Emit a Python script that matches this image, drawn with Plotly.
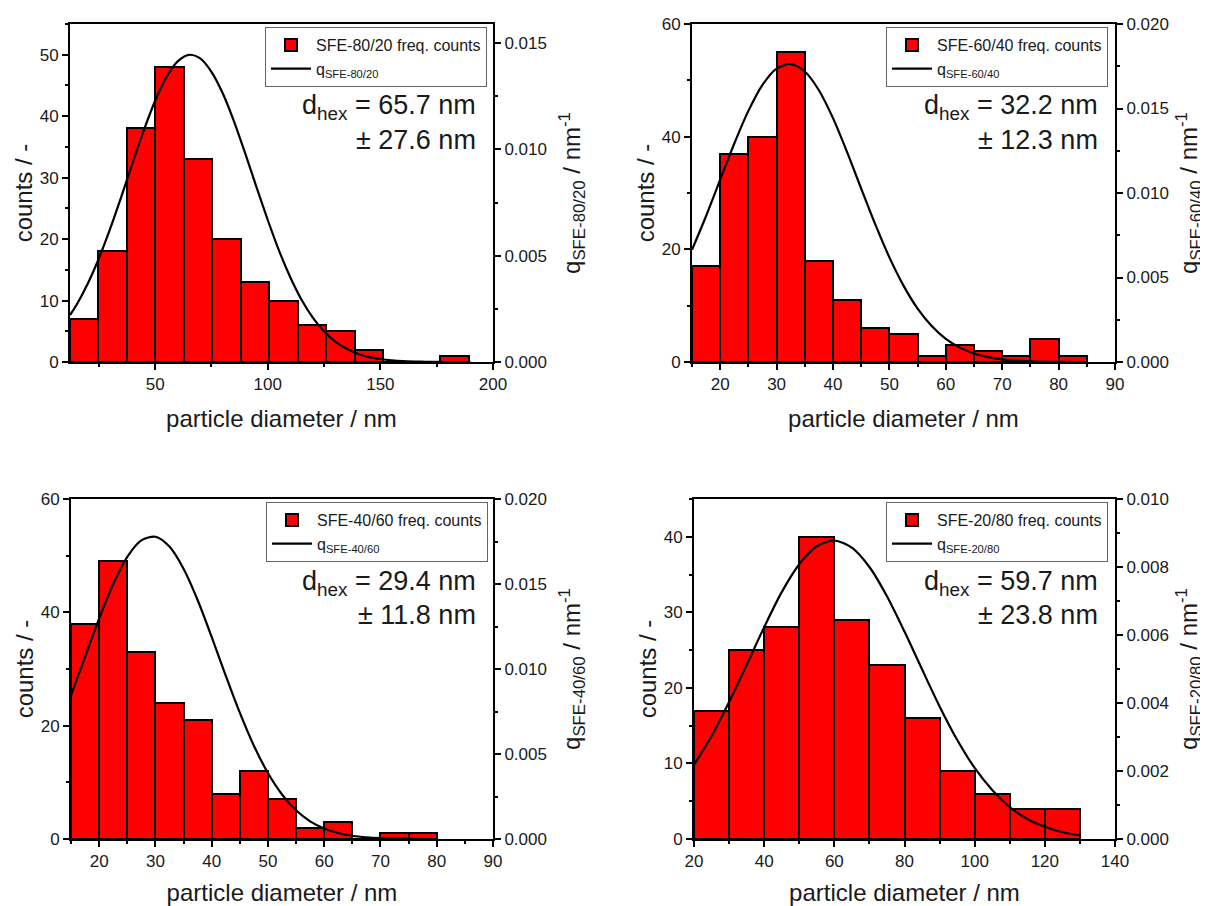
import plotly.graph_objects as go

# ---------------- data ----------------
samples = ["SFE-80/20", "SFE-60/40", "SFE-40/60", "SFE-20/80"]

edges_8020 = [12.2, 24.85, 37.5, 50.15, 62.8, 75.45, 88.1, 100.75, 113.4, 126.05,
              138.7, 151.35, 164.0, 176.65, 189.3]
counts_8020 = [7, 18, 38, 48, 33, 20, 13, 10, 6, 5, 2, 0, 0, 1]

edges_6040 = [15, 20, 25, 30, 35, 40, 45, 50, 55, 60, 65, 70, 75, 80, 85]
counts_6040 = [17, 37, 40, 55, 18, 11, 6, 5, 1, 3, 2, 1, 4, 1]

edges_4060 = [15, 20, 25, 30, 35, 40, 45, 50, 55, 60, 65, 70, 75, 80]
counts_4060 = [38, 49, 33, 24, 21, 8, 12, 7, 2, 3, 0, 1, 1]

edges_2080 = [20, 30, 40, 50, 60, 70, 80, 90, 100, 110, 120, 130]
counts_2080 = [17, 25, 28, 40, 29, 23, 16, 9, 6, 4, 4]

curve_x_8020 = [12.2, 15, 20, 25, 30, 35, 40, 45, 50, 55, 60, 65, 70, 75, 80, 85, 90, 95,
                100, 105, 110, 115, 120, 125, 130, 135, 140, 145, 150, 155, 160, 165,
                170, 180, 190]
curve_q_8020 = [0.00221, 0.00267, 0.00367, 0.00487, 0.00626, 0.00778, 0.00937, 0.01091,
                0.01229, 0.01340, 0.01414, 0.01445, 0.01428, 0.01365, 0.01264, 0.01132,
                0.00981, 0.00823, 0.00668, 0.00524, 0.00399, 0.00293, 0.00209, 0.00144,
                0.00096, 0.00062, 0.00039, 0.00023, 0.00014, 0.00008, 0.00004, 0.00002,
                0.00001, 0.0, 0.0]

curve_x_6040 = [15, 17.5, 20, 22.5, 25, 27.5, 30, 32.5, 35, 37.5, 40, 42.5, 45, 47.5, 50,
                52.5, 55, 57.5, 60, 62.5, 65, 67.5, 70, 72.5, 75, 77.5, 80, 85]
curve_q_6040 = [0.00664, 0.00864, 0.01079, 0.01293, 0.01486, 0.01640, 0.01736, 0.01763,
                0.01719, 0.01608, 0.01443, 0.01242, 0.01026, 0.00814, 0.00619, 0.00452,
                0.00316, 0.00213, 0.00137, 0.00085, 0.00050, 0.00029, 0.00016, 0.00008,
                0.00004, 0.00002, 0.00001, 0.0]

curve_x_4060 = [15, 17.5, 20, 22.5, 25, 27.5, 30, 32.5, 35, 37.5, 40, 42.5, 45, 47.5, 50,
                52.5, 55, 57.5, 60, 62.5, 65, 67.5, 70, 75, 80]
curve_q_4060 = [0.00845, 0.01071, 0.01296, 0.01500, 0.01660, 0.01757, 0.01778, 0.01720,
                0.01590, 0.01406, 0.01189, 0.00961, 0.00743, 0.00549, 0.00388, 0.00262,
                0.00169, 0.00104, 0.00062, 0.00035, 0.00019, 0.00010, 0.00005, 0.00001,
                0.0]

curve_x_2080 = [20, 25, 30, 35, 40, 45, 50, 55, 60, 65, 70, 75, 80, 85, 90, 95, 100,
                105, 110, 115, 120, 125, 130]
curve_q_2080 = [0.00218, 0.00303, 0.00403, 0.00512, 0.00623, 0.00726, 0.00808, 0.00861,
                0.00878, 0.00857, 0.00800, 0.00714, 0.00610, 0.00499, 0.00390, 0.00292,
                0.00209, 0.00144, 0.00094, 0.00059, 0.00036, 0.00020, 0.00011]

d_hex_mean = ["65.7", "32.2", "29.4", "59.7"]
d_hex_sd = ["27.6", "12.3", "11.8", "23.8"]

# axis settings per panel (ranges / ticks)
x_ranges = [[12.2, 200], [15, 90], [15, 90], [20, 140]]
x_dticks = [50, 10, 10, 20]
yl_ranges = [[0, 55], [0, 60], [0, 60], [0, 45]]
yl_dticks = [10, 20, 20, 10]
yr_ranges = [[0, 0.0159], [0, 0.020], [0, 0.020], [0, 0.010]]
yr_dticks = [0.005, 0.005, 0.005, 0.002]

all_edges = [edges_8020, edges_6040, edges_4060, edges_2080]
all_counts = [counts_8020, counts_6040, counts_4060, counts_2080]
all_cx = [curve_x_8020, curve_x_6040, curve_x_4060, curve_x_2080]
all_cq = [curve_q_8020, curve_q_6040, curve_q_4060, curve_q_2080]

# ---------------- layout geometry (pixels in the 1208x906 page) ----------------
OFF = 8                      # default page margin around the plot div
W, H = 1208 - OFF, 906 - OFF
# left, right, top, bottom of each plot area in page px
boxes = [(70, 493, 24, 362), (692, 1115, 24, 362),
         (71, 493, 499, 839), (694, 1115, 499, 839)]
legend_pos = [(487, 27), (1108, 27), (488, 502), (1108, 502)]
right_title_standoff = [17, 12, 17, 12]


def px_x(v):
    return (v - OFF) / W


def px_y(v):
    return 1 - (v - OFF) / H


FONT = "Liberation Sans, Arial, sans-serif"
TXT = "#1a1a1a"

fig = go.Figure()
layout = dict(width=W, height=H, margin=dict(l=0, r=0, t=0, b=0, autoexpand=False),
              autosize=False, plot_bgcolor="white", paper_bgcolor="white",
              font=dict(family=FONT, color=TXT), showlegend=True, bargap=0)
annotations = []

for i in range(4):
    xn = "x" if i == 0 else f"x{i+1}"
    yl = f"y{2*i+1}" if i > 0 else "y"
    yr = f"y{2*i+2}"
    lg = "legend" if i == 0 else f"legend{i+1}"
    edges = all_edges[i]
    counts = all_counts[i]
    centers = [(a + b) / 2 for a, b in zip(edges[:-1], edges[1:])]
    widths = [b - a for a, b in zip(edges[:-1], edges[1:])]

    fig.add_trace(go.Bar(x=centers, y=counts, width=widths, xaxis=xn, yaxis=yl,
                         marker=dict(color="#FF0000", line=dict(color="black", width=2)),
                         name=f"{samples[i]} freq. counts", legend=lg))
    fig.add_trace(go.Scatter(x=all_cx[i], y=all_cq[i], xaxis=xn, yaxis=yr, mode="lines",
                             line=dict(color="black", width=2.2, shape="spline", smoothing=0.8),
                             name=f"q<sub>{samples[i]}</sub>", legend=lg))

    l, r, t, b = boxes[i]
    xdom = [px_x(l), px_x(r)]
    ydom = [px_y(b), px_y(t)]
    xk = "xaxis" if i == 0 else f"xaxis{i+1}"
    ylk = "yaxis" if i == 0 else f"yaxis{2*i+1}"
    yrk = f"yaxis{2*i+2}"
    tickfont = dict(family=FONT, size=17, color=TXT)
    titlefont = dict(family=FONT, size=24, color=TXT)
    common = dict(showline=True, linecolor="black", linewidth=2,
                  ticks="outside", ticklen=6, tickwidth=2, tickcolor="black",
                  showgrid=False, zeroline=False, tickfont=tickfont, automargin=False)
    layout[xk] = dict(domain=xdom, anchor=yl, range=x_ranges[i], tick0=0, dtick=x_dticks[i],
                      mirror=True,
                      minor=dict(dtick=x_dticks[i] / 2, ticks="outside", ticklen=3,
                                 tickwidth=2, tickcolor="black"),
                      title=dict(text="particle diameter / nm", font=titlefont, standoff=17),
                      **common)
    layout[ylk] = dict(domain=ydom, anchor=xn, range=yl_ranges[i], tick0=0, dtick=yl_dticks[i],
                       minor=dict(dtick=yl_dticks[i] / 2, ticks="outside", ticklen=3,
                                  tickwidth=2, tickcolor="black"),
                       title=dict(text="counts / -", font=titlefont, standoff=0),
                       **common)
    layout[yrk] = dict(domain=ydom, anchor=xn, overlaying=yl, side="right",
                       range=yr_ranges[i], tick0=0, dtick=yr_dticks[i], tickformat=".3f",
                       minor=dict(dtick=yr_dticks[i] / 2, ticks="outside", ticklen=3,
                                  tickwidth=2, tickcolor="black"),
                       title=dict(text=f"q<sub>{samples[i]}</sub> / nm<sup>-1</sup>",
                                  font=titlefont, standoff=right_title_standoff[i]),
                       **common)
    lx, ly = legend_pos[i]
    layout[lg] = dict(x=px_x(lx), y=px_y(ly), xanchor="right", yanchor="top",
                      bgcolor="white", bordercolor="#666", borderwidth=1,
                      font=dict(family=FONT, size=16, color=TXT), itemwidth=40,
                      tracegroupgap=0, traceorder="normal")

    annotations.append(dict(xref=f"{xn} domain", yref=f"{yl} domain", x=0.965, y=0.754,
                            xanchor="right", yanchor="middle", showarrow=False,
                            text=f"d<sub>hex</sub> = {d_hex_mean[i]} nm",
                            font=dict(family=FONT, size=27, color=TXT)))
    annotations.append(dict(xref=f"{xn} domain", yref=f"{yl} domain", x=0.965, y=0.658,
                            xanchor="right", yanchor="middle", showarrow=False,
                            text=f"± {d_hex_sd[i]} nm",
                            font=dict(family=FONT, size=27, color=TXT)))

layout["annotations"] = annotations
fig.update_layout(**layout)
fig.write_html("out.html")
